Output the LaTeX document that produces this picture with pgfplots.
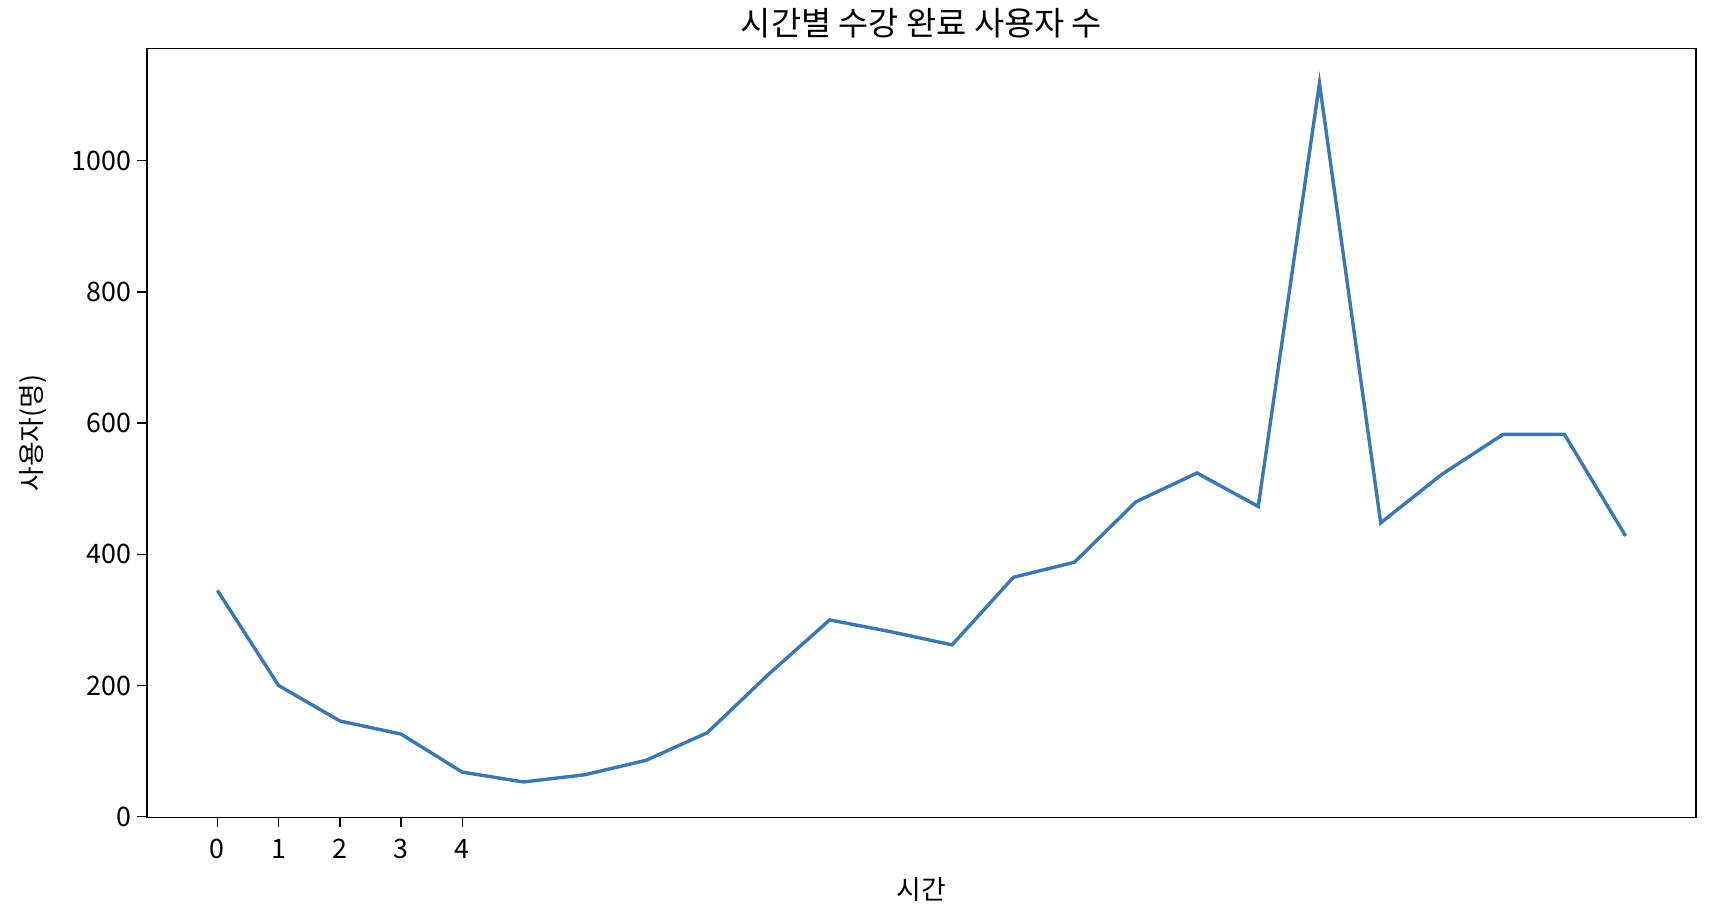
\documentclass[border=0pt]{standalone}
\usepackage{fontspec}
\setmainfont{Noto Sans CJK KR}
\usepackage{pgfplots}
\pgfplotsset{compat=1.18}
\definecolor{linec}{HTML}{3A77B3}
\begin{document}
\begin{tikzpicture}
\begin{axis}[
  name=ax,
  scale only axis,
  width=387.25pt, height=192.25pt,
  xmin=-1.15, xmax=24.15,
  ymin=-1.3, ymax=1171,
  xtick={0,1,2,3,4},
  ytick={0,200,400,600,800,1000},
  tick align=outside,
  tick pos=left,
  major tick length=2.4pt,
  every tick/.style={black, line width=0.35pt},
  axis line style={line width=0.35pt},
  /pgf/number format/assume math mode=true,
  /pgf/number format/1000 sep={},
  tick label style={font=\fontsize{6.7}{7}\selectfont},
  xticklabel style={anchor=base, yshift=-7.85pt},
  yticklabel style={xshift=2pt},
  every axis title shift=0pt,
  title={시간별 수강 완료 사용자 수},
  title style={font=\fontsize{8.2}{9}\selectfont, at={(axis description cs:0.5,1)}, anchor=base, inner sep=0pt, yshift=3.3pt},
  xlabel={시간},
  ylabel={사용자(명)},
  label style={font=\fontsize{6.7}{7}\selectfont},
  xlabel style={at={(axis description cs:0.5,-0.094)}, anchor=center},
  ylabel style={at={(axis description cs:-0.0735,0.5)}, anchor=center},
  clip=false,
]
\addplot[linec, line width=0.85pt, mark=none] coordinates {
(0,345) (1,200) (2,146) (3,126) (4,68) (5,53) (6,64) (7,86) (8,128)
(9,217) (10,300) (11,282) (12,262) (13,365) (14,388) (15,480) (16,524)
(17,473) (18,1118) (19,448) (20,522) (21,583) (22,583) (23,428)
};
\end{axis}
\pgfresetboundingbox
\useasboundingbox ([xshift=-36.75pt,yshift=-24.65pt]ax.south west) rectangle ([xshift=9pt,yshift=12.15pt]ax.north east);
\end{tikzpicture}
\end{document}
